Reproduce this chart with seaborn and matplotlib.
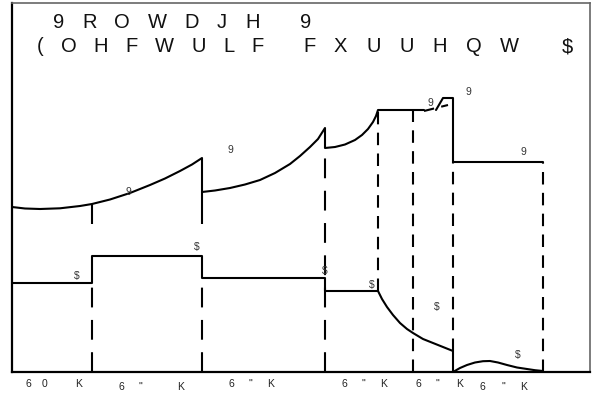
import matplotlib
matplotlib.use("Agg")
import matplotlib.pyplot as plt
import seaborn as sns

sns.set_theme(style="white")
plt.rcParams["font.family"] = ["Liberation Sans", "DejaVu Sans"]

# Voltage trace, piece by piece (time, volts) in drawing units
v1_t = [0, 13, 28, 48, 68, 80, 98, 118, 138, 153, 168, 180, 190]
v1_v = [165, 163.5, 163, 163.7, 166, 168, 172.5, 179, 187, 193.5, 201, 207.5, 214]
v2_t = [190, 203, 218, 233, 248, 263, 278, 288, 298, 306, 313]
v2_v = [180, 181.5, 184, 187.5, 192, 199, 208, 216, 225, 233, 244]
v3_t = [313, 323, 333, 343, 350, 356, 361, 364, 366, 412]
v3_v = [224, 225, 227.5, 232, 237, 243, 250, 256, 262, 262]
v4_t = [412, 436]            # dashed bit
v4_v = [261, 267]
v5_t = [424, 431, 441, 441, 531]
v5_v = [262, 274, 274, 210, 210]

# Current trace
i1_t = [0, 80, 80, 190, 190, 313, 313, 366, 370, 375, 381, 388, 395, 401,
        411, 421, 431, 441, 441]
i1_a = [89, 89, 116, 116, 94, 94, 81, 81, 73, 65, 57, 49, 43, 39,
        33, 29, 25, 21, 0]
i2_t = [441, 448, 455, 463, 471, 478, 486, 495, 505, 515, 523, 531]
i2_a = [0, 4, 7, 9.5, 10.8, 11, 9.5, 7, 4.5, 3, 1.8, 1]

# guide lines: (time, bottom, top)
solid_marks = [(80, 148, 168), (190, 148, 214), (313, 224, 244)]
long_marks = [(80, 0, 89), (190, 0, 94), (313, 0, 224)]
short_marks = [(366, 81, 262), (401, 0, 261), (441, 21, 210), (531, 0, 210)]

# point labels
lab_text = ["9", "9", "$", "$", "$", "$", "9", "$", "$", "9", "9"]
lab_t = [218, 116, 65, 185, 313, 360, 511, 425, 506, 418, 456]
lab_y = [222, 180, 96, 125, 101, 87, 220, 65, 17, 269, 280]

title1 = "9ROWDJH 9"
title2 = "(OHFWULF FXUUHQW $"

bottom_labels = ["60K", '6"K', '6"K', '6"K', '6"K', '6"K']
bottom_x = [[28, 45, 79], [121, 140, 181], [231, 250, 271],
            [344, 363, 384], [418, 437, 460], [482, 503, 524]]
bottom_drop = [0, 3, 0, 0, 0, 3]

W, H = 593, 394
fig = plt.figure(figsize=(W / 100, H / 100), dpi=100)
ax = fig.add_axes([12 / W, 22 / H, 578 / W, 369 / H])
ax.set_xlim(0, 578)
ax.set_ylim(0, 369)
ax.set_xticks([])
ax.set_yticks([])
for side in ["left", "bottom"]:
    ax.spines[side].set_color("black")
    ax.spines[side].set_linewidth(1.6)
for side in ["top", "right"]:
    ax.spines[side].set_color("#666666")
    ax.spines[side].set_linewidth(1.2)

kw = dict(color="black", linewidth=1.5, sort=False, estimator=None, ax=ax)
for t, v in [(v1_t, v1_v), (v2_t, v2_v), (v3_t, v3_v), (v5_t, v5_v),
             (i1_t, i1_a), (i2_t, i2_a)]:
    sns.lineplot(x=t, y=v, **kw)
sns.lineplot(x=v4_t, y=v4_v, linestyle=(0, (5, 3.5)), **kw)

for t, lo, hi in solid_marks:
    ax.vlines(t, lo, hi, color="black", linewidth=1.5)
for t, lo, hi in long_marks:
    ax.vlines(t, lo, hi, color="black", linewidth=1.5, linestyle=(0, (9.5, 6)))
for t, lo, hi in short_marks:
    ax.vlines(t, lo, hi, color="black", linewidth=1.5, linestyle=(0, (6, 4)))

for s, x, y in zip(lab_text, lab_t, lab_y):
    ax.text(x, y, s, fontsize=7.5, color="#333333", ha="center", va="center")


def spaced(text, x0, x1, ypix, size=14.5, draw_last=True):
    # letter-spaced text: first glyph starts at x0, last glyph starts at x1 (pixels)
    r = fig.canvas.get_renderer()
    widths = []
    for ch in text[:-1]:
        t = fig.text(0, 0, ch if ch != " " else "n", fontsize=size)
        w = t.get_window_extent(r).width
        widths.append(w * 0.45 if ch == " " else w)
        t.remove()
    track = (x1 - x0 - sum(widths)) / len(widths)
    x = x0
    n = len(text) if draw_last else len(text) - 1
    for i, ch in enumerate(text[:n]):
        if ch != " ":
            fig.text(x / W, 1 - ypix / H, ch, fontsize=size, color="#111111",
                     ha="left", va="center")
        if i < len(widths):
            x += widths[i] + track


spaced(title1, 53, 300, 23)
spaced(title2[:10], 37, 303, 47, draw_last=False)
spaced(title2[9:], 303, 562, 47)

for s, xs, d in zip(bottom_labels, bottom_x, bottom_drop):
    for ch, x in zip(s, xs):
        ax.text(x - 12, -12 - d, ch, fontsize=7.5, color="#222222",
                ha="center", va="center", clip_on=False)

fig.savefig("out.png", dpi=100, facecolor="white")
